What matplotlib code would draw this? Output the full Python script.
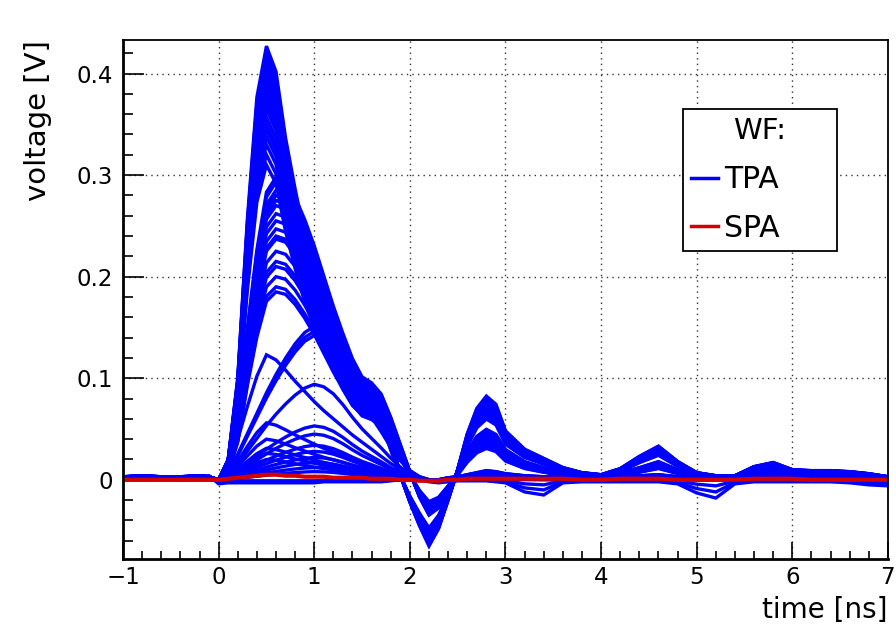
import numpy as np
import matplotlib
matplotlib.use("Agg")
import matplotlib.pyplot as plt
from matplotlib.lines import Line2D
from matplotlib.ticker import MultipleLocator, FuncFormatter

# sample times [ns]
time_ns = [-1.0, -0.8, -0.6, -0.4, -0.2, -0.1,
           0.0, 0.1, 0.2, 0.3, 0.4, 0.5, 0.6, 0.7, 0.8, 0.9,
           1.0, 1.1, 1.2, 1.3, 1.4, 1.5, 1.6, 1.7, 1.8, 1.9,
           2.0, 2.1, 2.2, 2.3, 2.4, 2.5, 2.6, 2.7, 2.8, 2.9, 3.0,
           3.2, 3.4, 3.6, 3.8, 4.0, 4.2, 4.4, 4.6, 4.8, 5.0,
           5.2, 5.4, 5.6, 5.8, 6.0, 6.2, 6.4, 6.6, 6.8, 7.0]

# TPA waveform shapes [V]
tpa_fast = [0.003, 0.004, 0.003, 0.003, 0.004, 0.003,
            0.000, 0.020, 0.100, 0.255, 0.375, 0.425, 0.400, 0.335, 0.285, 0.240,
            0.205, 0.175, 0.148, 0.122, 0.100, 0.088, 0.092, 0.076, 0.040, 0.005,
            -0.022, -0.045, -0.065, -0.048, -0.020, 0.010, 0.045, 0.070, 0.082, 0.074, 0.048,
            0.030, 0.021, 0.012, 0.007, 0.005, 0.011, 0.023, 0.033, 0.018, 0.007,
            0.004, 0.004, 0.013, 0.017, 0.010, 0.009, 0.009, 0.008, 0.006, 0.003]
tpa_mid = [0.003, 0.003, 0.002, 0.003, 0.003, 0.002,
           0.000, 0.012, 0.060, 0.150, 0.228, 0.285, 0.300, 0.296, 0.280, 0.258,
           0.232, 0.202, 0.172, 0.145, 0.120, 0.102, 0.096, 0.085, 0.062, 0.035,
           0.008, -0.017, -0.035, -0.028, -0.010, 0.008, 0.028, 0.043, 0.050, 0.045, 0.030,
           0.018, 0.012, 0.007, 0.005, 0.004, 0.007, 0.012, 0.018, 0.010, 0.005,
           0.003, 0.003, 0.007, 0.010, 0.007, 0.006, 0.006, 0.005, 0.004, 0.003]
tpa_slow = [0.002, 0.002, 0.002, 0.002, 0.002, 0.002,
            0.000, 0.008, 0.025, 0.045, 0.065, 0.085, 0.103, 0.119, 0.133, 0.144,
            0.150, 0.146, 0.135, 0.118, 0.098, 0.080, 0.065, 0.050, 0.034, 0.020,
            0.009, 0.003, 0.000, 0.000, 0.002, 0.003, 0.005, 0.007, 0.009, 0.008, 0.006,
            0.004, 0.003, 0.003, 0.002, 0.002, 0.003, 0.004, 0.005, 0.003, 0.002,
            0.002, 0.002, 0.003, 0.004, 0.003, 0.003, 0.003, 0.003, 0.002, 0.002]
tpa_early = [0.002, 0.002, 0.002, 0.002, 0.002, 0.002,
             0.000, 0.012, 0.040, 0.072, 0.102, 0.123, 0.118, 0.108, 0.097, 0.087,
             0.077, 0.068, 0.060, 0.052, 0.044, 0.037, 0.030, 0.023, 0.016, 0.010,
             0.005, 0.002, 0.000, 0.000, 0.001, 0.002, 0.004, 0.005, 0.006, 0.005, 0.004,
             0.003, 0.002, 0.002, 0.002, 0.002, 0.003, 0.004, 0.004, 0.003, 0.002,
             0.002, 0.002, 0.003, 0.003, 0.003, 0.002, 0.002, 0.002, 0.002, 0.002]
tpa_base = [0.002, 0.001, 0.002, 0.001, 0.003, 0.004,
            -0.004, -0.003, -0.003, -0.003, -0.003, -0.003, -0.003, -0.003, -0.003, -0.003,
            -0.003, -0.002, -0.002, -0.002, -0.002, -0.002, -0.002, -0.002, -0.001, 0.000,
            0.000, 0.000, -0.002, -0.003, -0.002, -0.001, -0.001, -0.001, -0.001, -0.002, -0.003,
            -0.012, -0.015, -0.003, -0.002, -0.002, -0.002, -0.002, -0.002, -0.004, -0.013,
            -0.018, -0.004, -0.002, -0.002, -0.002, -0.002, -0.002, -0.003, -0.005, -0.006]

# peak value of each TPA waveform, grouped by shape [V]
fast_peaks = [0.427, 0.42, 0.415, 0.41, 0.405, 0.40, 0.395, 0.39, 0.385, 0.38,
              0.375, 0.37, 0.365, 0.357, 0.35, 0.345, 0.338, 0.33, 0.32, 0.31]
mid_peaks = [0.298, 0.293, 0.285, 0.28, 0.275, 0.27, 0.262, 0.255, 0.247, 0.24,
             0.237, 0.225, 0.215, 0.21, 0.2, 0.19, 0.185]
slow_peaks = [0.151, 0.146, 0.142, 0.094, 0.053, 0.045, 0.034, 0.028, 0.022, 0.017, 0.012, 0.008]
early_peaks = [0.123, 0.056, 0.04, 0.031, 0.026, 0.02]
base_dips = [-0.018, -0.012, -0.006]

# SPA waveform [V]
spa = [0.000, 0.000, 0.000, 0.000, 0.000, 0.000,
       0.000, 0.001, 0.002, 0.003, 0.004, 0.005, 0.005, 0.004, 0.004, 0.003,
       0.003, 0.003, 0.002, 0.002, 0.002, 0.002, 0.001, 0.001, 0.001, 0.000,
       0.000, -0.001, -0.001, -0.001, 0.000, 0.000, 0.001, 0.001, 0.001, 0.001, 0.001,
       0.001, 0.001, 0.001, 0.000, 0.000, 0.001, 0.001, 0.001, 0.000, 0.000,
       0.000, 0.000, 0.001, 0.001, 0.001, 0.000, 0.000, 0.000, 0.000, 0.000]

plt.rcParams['font.family'] = ['DejaVu Sans']

fig = plt.figure(figsize=(8.96, 6.36), dpi=100)
ax = fig.add_axes([0.1373, 0.1211, 0.8537, 0.816])

t = np.array(time_ns)


def scaled(shape, level):
    shape = np.array(shape)
    ref = shape[np.argmax(np.abs(shape))]
    return shape * level / ref


for shape, levels in [(tpa_base, base_dips), (tpa_slow, slow_peaks), (tpa_early, early_peaks),
                      (tpa_mid, mid_peaks), (tpa_fast, fast_peaks)]:
    for lv in levels:
        ax.plot(t, scaled(shape, lv), color='#0000ff', lw=2.4, solid_joinstyle='miter')

ax.plot(t, spa, color='#d40000', lw=3.0)

ax.set_xlim(-1, 7)
ax.set_ylim(-0.078, 0.433)
ax.xaxis.set_major_locator(MultipleLocator(1))
ax.xaxis.set_minor_locator(MultipleLocator(0.2))
ax.yaxis.set_major_locator(MultipleLocator(0.1))
ax.yaxis.set_minor_locator(MultipleLocator(0.02))
ax.yaxis.set_major_formatter(FuncFormatter(lambda v, p: '%g' % round(v, 3)))

ax.tick_params(which='both', direction='in', top=False, right=False, labelsize=16.5, width=1.2)
ax.tick_params(axis='y', which='major', length=15, pad=7)
ax.tick_params(axis='y', which='minor', length=7)
ax.tick_params(axis='x', which='major', length=12, pad=5)
ax.tick_params(axis='x', which='minor', length=6)

for side in ['top', 'right']:
    ax.spines[side].set_linewidth(1.3)
for side in ['bottom', 'left']:
    ax.spines[side].set_linewidth(2.0)

ax.grid(True, which='major', color='#333333', lw=1.0, ls=(0, (1, 3)))
ax.set_axisbelow(True)

ax.set_xlabel('time [ns]', fontsize=20, loc='right')
ax.xaxis.set_label_coords(1.0, -0.072)
ax.set_ylabel('voltage [V]', fontsize=21, loc='top')
ax.yaxis.set_label_coords(-0.093, 1.0)

handles = [Line2D([], [], color='#0000ff', lw=2.5), Line2D([], [], color='#d40000', lw=2.5)]
leg = ax.legend(handles, ['TPA', 'SPA'], title='WF:', title_fontsize=21, fontsize=21.5,
                loc='upper left', bbox_to_anchor=(0.732, 0.0, 0.2013, 0.867), mode='expand',
                borderaxespad=0, fancybox=False, framealpha=1, edgecolor='black',
                handlelength=0.9, handletextpad=0.2, labelspacing=0.66, borderpad=0.28)
leg.get_frame().set_linewidth(1.3)

fig.savefig('out.png', dpi=100)
